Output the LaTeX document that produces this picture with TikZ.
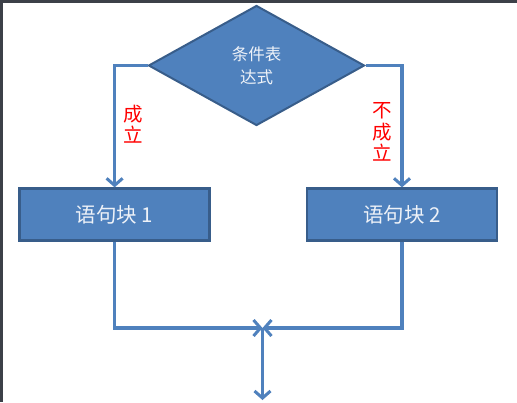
\documentclass[tikz,border=0pt]{standalone}
\usepackage{fontspec}
\newfontfamily\cjk{Noto Sans CJK SC}
\usepackage{xcolor,tikz}
\usetikzlibrary{arrows.meta,positioning,shapes.geometric}
\definecolor{office}{HTML}{4F81BD}
\definecolor{edge}{HTML}{385D8A}
\definecolor{frame}{HTML}{3C4048}
\definecolor{pale}{HTML}{EEF2F8}

\begin{document}
\begin{tikzpicture}[x=1pt,y=-1pt,
 block/.style={rectangle,draw=edge,fill=office,line width=2.5pt,minimum width=190pt,minimum height=52pt,
   text=pale,font=\cjk\fontsize{20.5}{24}\selectfont},
 cond/.style={diamond,draw=edge,fill=office,line width=2pt,minimum width=216pt,minimum height=120pt,
   inner sep=0pt,text=pale,align=center,font=\cjk\fontsize{16.5}{23}\selectfont},
 flow/.style={draw=office,line width=3.3pt,-{Straight Barb[length=7pt,width=16pt,line width=3pt]}},
 lbl/.style={text=red,align=center,font=\cjk\fontsize{19.5}{21.5}\selectfont}]
 \fill[frame] (0,0) rectangle (517,402);
 \fill[white] (3.3,3) rectangle (517,402);
 \node[cond] (test) at (256.5,65.5) {条件表\\达式};
 \node[block] (blk1) at (114.6,214.6) {语句块 1};
 \node[block] (blk2) at (402,214.6) {语句块 2};
 \coordinate (join) at (262.5,328);
 \coordinate (out) at (262.5,400);
 \draw[flow] (test.west) -| (blk1.north);
 \draw[flow] (test.east) -| (blk2.north);
 \draw[flow] (blk1.south) |- (join);
 \draw[flow] (blk2.south) |- (join);
 \draw[flow] (join) -- (out);
 \node[lbl] (yes) at (133,124) {成\\立};
 \node[lbl] (no) at (382.5,132) {不\\成\\立};
\end{tikzpicture}
\end{document}
